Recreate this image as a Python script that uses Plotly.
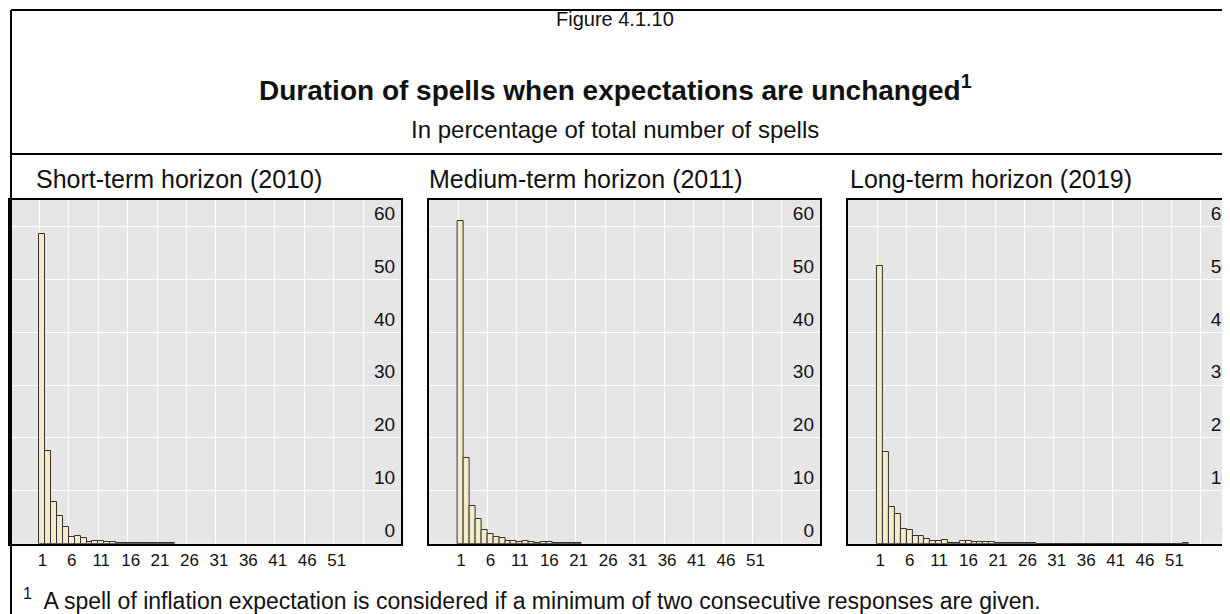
import plotly.graph_objects as go

W, H = 1230, 614

# Share of spells (%) by spell duration
short_term = [58.6, 17.6, 7.9, 5.3, 3.2, 1.2, 1.4, 1.0, 0.25, 0.45, 0.55, 0.4,
              0.25, 0.2, 0.2, 0.1, 0.05, 0.2, 0.15, 0.15, 0.05, 0.05, 0.1]
medium_term = [61.0, 16.2, 7.1, 4.7, 2.6, 1.8, 1.3, 1.1, 0.45, 0.45, 0.3, 0.6,
               0.25, 0.2, 0.25, 0.25, 0.2, 0.1, 0.05, 0.05, 0.2]
long_term = [52.5, 17.4, 7.0, 5.7, 2.8, 2.5, 1.5, 1.45, 0.95, 0.6, 0.45, 0.75,
             0.2, 0.2, 0.5, 0.5, 0.4, 0.3, 0.3, 0.3, 0.2, 0.2, 0.2, 0.1, 0.2,
             0.05, 0.05] + [0.0] * 25 + [0.05]

panel_titles = ["Short-term horizon (2010)", "Medium-term horizon (2011)", "Long-term horizon (2019)"]
x_ticks = [1, 6, 11, 16, 21, 26, 31, 36, 41, 46, 51]
y_ticks = [0, 10, 20, 30, 40, 50, 60]

FONT = "Liberation Sans, Arial, sans-serif"
BAR_FILL = "#F4ECC8"
BAR_LINE = "#333333"
PLOT_BG = "#E6E6E6"


def px_x(x):
    return x / W


def px_y(y):
    return 1 - y / H


# plot boxes in figure pixels (left, right); the last one runs past the window
boxes = [(0, 392), (419.3, 811.5), (839.3, 1230)]
x_ranges = [[-4.5, 62], [-4.5, 62], [-4.5, 61.8]]
y_top, y_bot = 192, 535.7

fig = go.Figure()
series = [short_term, medium_term, long_term]
for i, vals in enumerate(series):
    n = i + 1
    xa = "x" if n == 1 else f"x{n}"
    ya = "y" if n == 1 else f"y{n}"
    fig.add_trace(go.Bar(
        x=list(range(1, len(vals) + 1)), y=vals, width=1,
        marker=dict(color=BAR_FILL, line=dict(color=BAR_LINE, width=1)),
        xaxis=xa, yaxis=ya, showlegend=False, hoverinfo="x+y",
    ))
    left, right = boxes[i]
    suffix = "" if n == 1 else str(n)
    fig.layout["xaxis" + suffix] = dict(
        domain=[px_x(left), px_x(right)], range=x_ranges[i], anchor=ya,
        tickmode="array", tickvals=x_ticks, ticktext=[str(t) for t in x_ticks],
        showgrid=False, zeroline=False, ticks="",
        minor=dict(tickmode="linear", tick0=0.5, dtick=5, showgrid=True,
                   gridcolor="white", gridwidth=1, ticks=""),
        showline=True, mirror=True, linecolor="black", linewidth=2,
        tickfont=dict(family=FONT, size=17, color="#111"),
        fixedrange=True,
    )
    fig.layout["yaxis" + suffix] = dict(
        domain=[px_y(y_bot), px_y(y_top)], range=[0, 65], anchor=xa,
        side="right", ticklabelposition="inside top", ticklabelstandoff=6,
        tickmode="array", tickvals=y_ticks,
        showgrid=True, gridcolor="white", gridwidth=1, zeroline=False, ticks="",
        showline=True, mirror=True, linecolor="black", linewidth=2,
        tickfont=dict(family=FONT, size=19, color="#111"),
        fixedrange=True,
    )

# outer frame and header separator
frame = dict(color="black", width=2)
fig.add_shape(type="line", xref="paper", yref="paper", x0=px_x(1), x1=1, y0=px_y(2), y1=px_y(2), line=frame)
fig.add_shape(type="line", xref="paper", yref="paper", x0=px_x(1), x1=1, y0=px_y(146), y1=px_y(146), line=frame)
fig.add_shape(type="line", xref="paper", yref="paper", x0=px_x(1), x1=px_x(1), y0=px_y(2), y1=0, line=frame)

mid = px_x(606)
ann = [
    dict(text="Figure 4.1.10", x=mid, y=px_y(11), size=20, xanchor="center"),
    dict(text="<b>Duration of spells when expectations are unchanged<sup>1</sup></b>", x=mid, y=px_y(80), size=28, xanchor="center"),
    dict(text="In percentage of total number of spells", x=mid, y=px_y(122), size=24, xanchor="center"),
    dict(text="<sup>1</sup>  A spell of inflation expectation is considered if a minimum of two consecutive responses are given.",
         x=px_x(11), y=px_y(591), size=23, xanchor="left"),
]
for t, left in zip(panel_titles, [24, 418, 839]):
    ann.append(dict(text=t, x=px_x(left), y=px_y(171), size=25, xanchor="left"))

for a in ann:
    fig.add_annotation(text=a["text"], x=a["x"], y=a["y"], xref="paper", yref="paper",
                       xanchor=a["xanchor"], yanchor="middle", showarrow=False,
                       font=dict(family=FONT, size=a["size"], color="#111"))

fig.update_layout(
    width=W, height=H, margin=dict(l=0, r=0, t=0, b=0),
    paper_bgcolor="white", plot_bgcolor=PLOT_BG,
    bargap=0, showlegend=False,
)

fig.write_html("out.html")
